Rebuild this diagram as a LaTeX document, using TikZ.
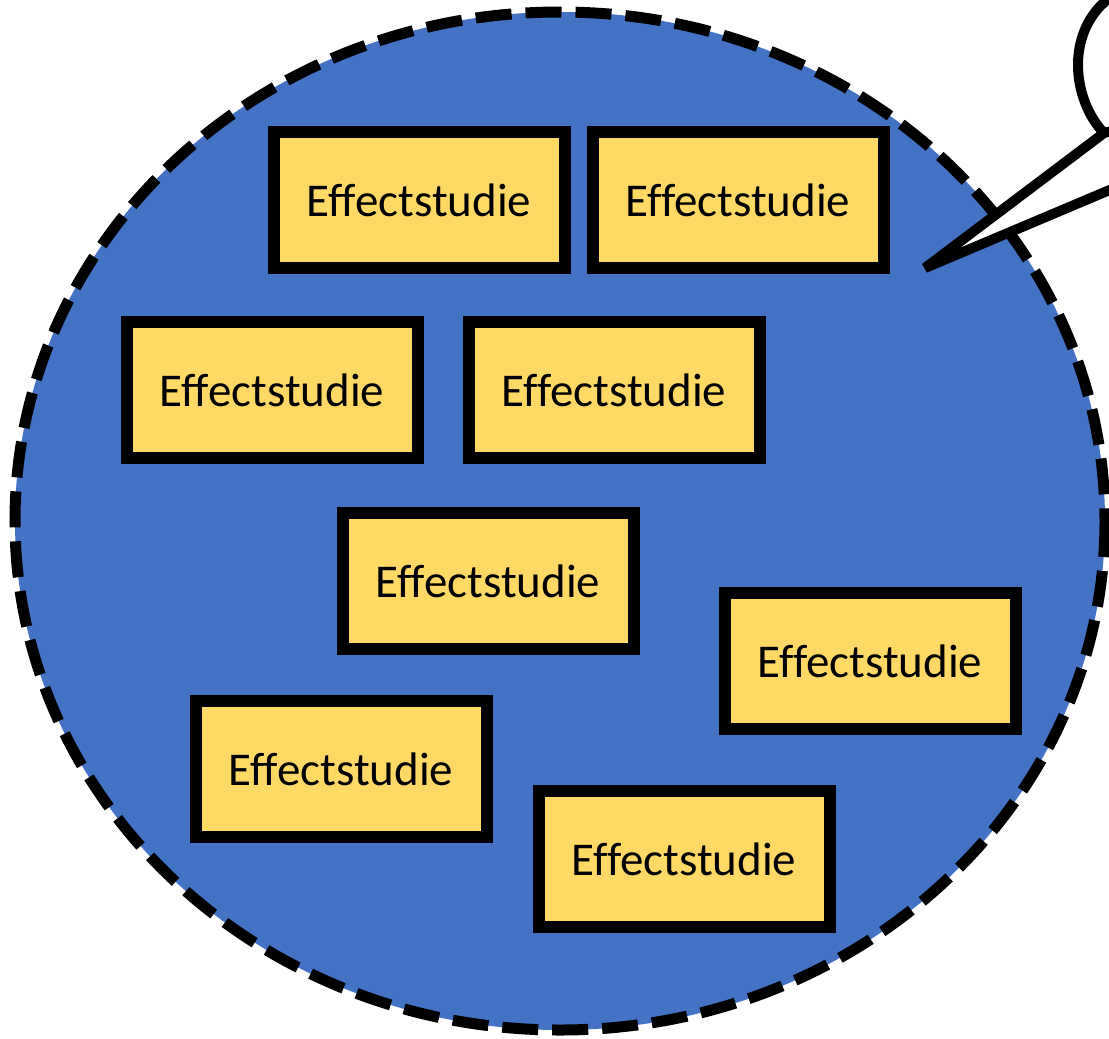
\documentclass[tikz,border=0pt]{standalone}
\usepackage{fontspec}
\setmainfont{Carlito}[Ligatures=NoCommon]
\usetikzlibrary{shapes.geometric}
\definecolor{circblue}{HTML}{4472C4}
\definecolor{boxyellow}{HTML}{FFD966}
\begin{document}
\begin{tikzpicture}[x=1pt,y=-1pt,
  studybox/.style={draw=black, fill=boxyellow, line width=12pt, minimum width=291pt, minimum height=136pt, inner sep=0pt, font=\fontsize{47}{52}\selectfont}]
\useasboundingbox (0,0) rectangle (1109,1039);
\begin{scope}
\clip (0,0) rectangle (1109,1039);
\node[draw=none, fill=circblue, ellipse, minimum width=1090pt, minimum height=1018pt, inner sep=0pt] (circ) at (560,521) {};
\draw[line width=11pt, dash pattern=on 36pt off 14pt] (560,521) ellipse [x radius=545, y radius=509];
% speech bubble
\coordinate (tip) at (925,268);
\fill[white] (1112,133) -- (tip) -- (1112,192) -- cycle;
\draw[line width=10pt, line join=bevel] (1112,131) -- (1104,133) -- (tip) -- (1112,189);
\draw[line width=10pt] (1104,133) .. controls (1072,100) and (1064,30) .. (1112,-4);
\end{scope}
\node[studybox] (s1) at (419,200) {Effectstudie};
\node[studybox] (s2) at (738,200) {Effectstudie};
\node[studybox] (s3) at (272,390) {Effectstudie};
\node[studybox] (s4) at (614,390) {Effectstudie};
\node[studybox] (s5) at (488,581) {Effectstudie};
\node[studybox] (s6) at (870,661) {Effectstudie};
\node[studybox] (s7) at (341,769) {Effectstudie};
\node[studybox] (s8) at (684,859) {Effectstudie};
\end{tikzpicture}
\end{document}
